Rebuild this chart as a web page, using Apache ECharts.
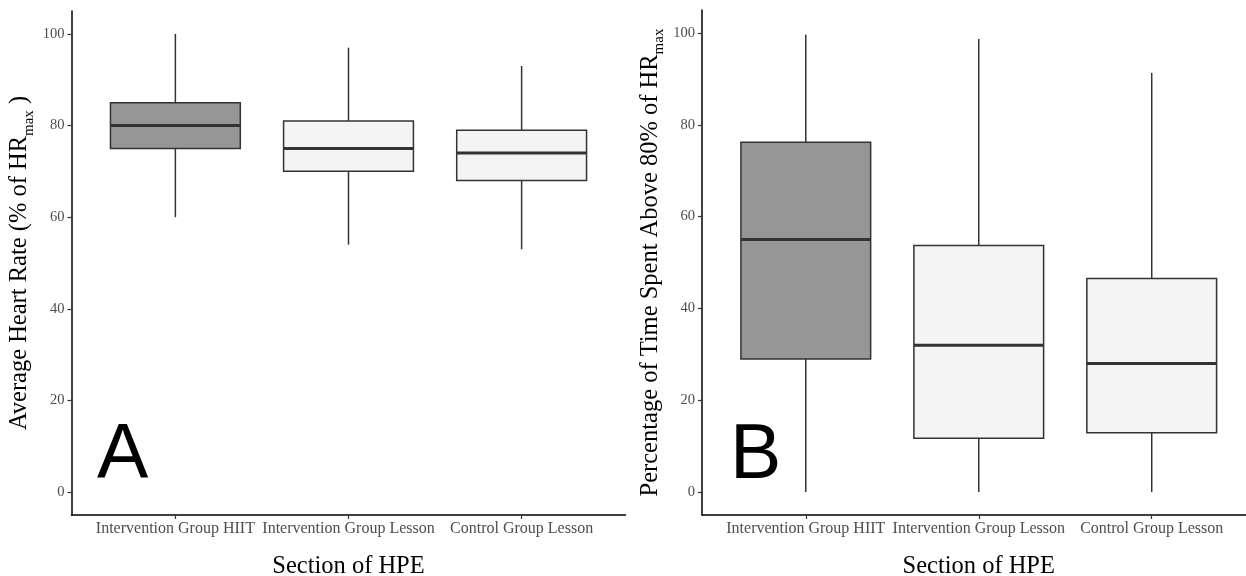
<!DOCTYPE html>
<html>
<head>
<meta charset="utf-8">
<script src="https://cdn.jsdelivr.net/npm/echarts@6/dist/echarts.min.js"></script>
<style>
html,body{margin:0;padding:0;background:#fff;}
#chart{width:1246px;height:576px;}
</style>
</head>
<body>
<div id="chart"></div>
<script>
// ---- data ----
var categories = ['Intervention Group HIIT', 'Intervention Group Lesson', 'Control Group Lesson'];
var yTicks = [0, 20, 40, 60, 80, 100];
var catPos = [1, 2, 3];

// Panel A: average heart rate (% of HRmax)
var hrMin = [60, 54, 53];
var hrQ1  = [75, 70, 68];
var hrMed = [80, 75, 74];
var hrQ3  = [85, 81, 79];
var hrMax = [100, 97, 93];

// Panel B: % of time above 80% HRmax
var tMin = [0, 0, 0];
var tQ1  = [29, 11.7, 12.9];
var tMed = [55, 32, 28];
var tQ3  = [76.2, 53.7, 46.5];
var tMax = [99.6, 98.7, 91.3];

var fills = ['#969696', '#f4f4f4', '#f4f4f4'];

function boxData(mn, q1, md, q3, mx) {
  return catPos.map(function (p, i) { return [p, mn[i], q1[i], md[i], q3[i], mx[i], i]; });
}

var SERIF = '"Liberation Serif", "DejaVu Serif", serif';
var LINE = '#333333';

function renderBox(params, api) {
  var x = api.value(0);
  var w = api.size([0.75, 0])[0];
  var pMin = api.coord([x, api.value(1)]);
  var pQ1 = api.coord([x, api.value(2)]);
  var pMed = api.coord([x, api.value(3)]);
  var pQ3 = api.coord([x, api.value(4)]);
  var pMax = api.coord([x, api.value(5)]);
  var idx = api.value(6);
  var cx = pMed[0];
  return {
    type: 'group',
    children: [
      { type: 'line', shape: { x1: cx, y1: pQ3[1], x2: cx, y2: pMax[1] }, style: { stroke: LINE, lineWidth: 1.5 } },
      { type: 'line', shape: { x1: cx, y1: pQ1[1], x2: cx, y2: pMin[1] }, style: { stroke: LINE, lineWidth: 1.5 } },
      { type: 'rect', shape: { x: cx - w / 2, y: pQ3[1], width: w, height: pQ1[1] - pQ3[1] },
        style: { fill: fills[idx], stroke: LINE, lineWidth: 1.5 } },
      { type: 'line', shape: { x1: cx - w / 2, y1: pMed[1], x2: cx + w / 2, y2: pMed[1] }, style: { stroke: LINE, lineWidth: 3 } }
    ]
  };
}

function xAxisCfg(gi) {
  return {
    type: 'value', gridIndex: gi, min: 0.4, max: 3.6,
    name: 'Section of HPE', nameLocation: 'middle', nameGap: 39,
    nameTextStyle: { fontFamily: SERIF, fontSize: 24.5, color: '#000' },
    axisLine: { show: true, onZero: false, lineStyle: { color: '#000', width: 1.5 } },
    axisTick: { show: true, length: 4, customValues: catPos, lineStyle: { color: LINE, width: 1.2 } },
    axisLabel: { customValues: catPos, margin: 6, fontFamily: SERIF, fontSize: 16, color: '#4d4d4d',
      formatter: function (v) { return categories[Math.round(v) - 1] || ''; } },
    splitLine: { show: false }
  };
}

function yAxisCfg(gi, name, gap) {
  return {
    type: 'value', gridIndex: gi, min: -5, max: 105,
    name: name, nameLocation: 'middle', nameGap: gap, nameRotate: 90,
    nameTextStyle: {
      fontFamily: SERIF, fontSize: 24.5, color: '#000',
      rich: {
        a: { fontFamily: SERIF, fontSize: 24.5, lineHeight: 28, verticalAlign: 'top', color: '#000' },
        sub: { fontFamily: SERIF, fontSize: 15, lineHeight: 15, verticalAlign: 'top', padding: [14, 0, 0, 0], color: '#000' }
      }
    },
    axisLine: { show: true, onZero: false, lineStyle: { color: '#000', width: 1.5 } },
    axisTick: { show: true, length: 4, customValues: yTicks, lineStyle: { color: LINE, width: 1.2 } },
    axisLabel: { customValues: yTicks, margin: 7, fontFamily: SERIF, fontSize: 14.5, color: '#4d4d4d' },
    splitLine: { show: false }
  };
}

var chart = echarts.init(document.getElementById('chart'), null, { renderer: 'canvas' });
chart.setOption({
  backgroundColor: '#ffffff',
  animation: false,
  grid: [
    { left: 71.5, top: 11, width: 554, height: 504, containLabel: false, outerBoundsMode: 'none' },
    { left: 702, top: 10, width: 553.5, height: 505, containLabel: false, outerBoundsMode: 'none' }
  ],
  xAxis: [xAxisCfg(0), xAxisCfg(1)],
  yAxis: [
    yAxisCfg(0, '{a|Average Heart Rate (% of HR}{sub|max}{a| )}', 36),
    yAxisCfg(1, '{a|Percentage of Time Spent Above 80% of HR}{sub|max}', 36)
  ],
  series: [
    { type: 'custom', xAxisIndex: 0, yAxisIndex: 0, renderItem: renderBox,
      data: boxData(hrMin, hrQ1, hrMed, hrQ3, hrMax), encode: { x: 0, y: [1, 2, 3, 4, 5] } },
    { type: 'custom', xAxisIndex: 1, yAxisIndex: 1, renderItem: renderBox,
      data: boxData(tMin, tQ1, tMed, tQ3, tMax), encode: { x: 0, y: [1, 2, 3, 4, 5] } }
  ],
  graphic: [
    { type: 'text', left: 97, top: 418, style: { text: 'A', font: '77px "Liberation Sans", Arial, sans-serif', fill: '#000' } },
    { type: 'text', left: 730, top: 418, style: { text: 'B', font: '77px "Liberation Sans", Arial, sans-serif', fill: '#000' } }
  ]
});
</script>
</body>
</html>
